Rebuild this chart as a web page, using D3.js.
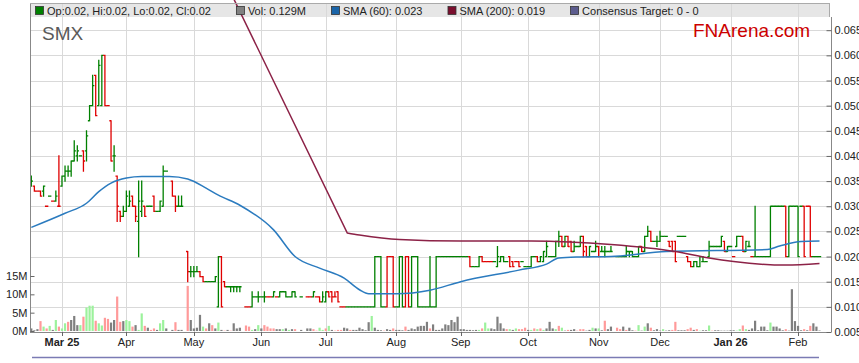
<!DOCTYPE html>
<html><head><meta charset="utf-8">
<script src="https://cdn.jsdelivr.net/npm/d3@7"></script>
<style>
html,body{margin:0;padding:0;background:#fff;}
svg{display:block;font-family:"Liberation Sans",Arial,sans-serif;}
</style></head>
<body><svg id="chart" width="859" height="363"></svg>
<script>
// trading days start Mon 17 Feb 2025, weekdays only
const firstDay = new Date(2025, 1, 17);
const monthLabels = ['Mar 25','Apr','May','Jun','Jul','Aug','Sep','Oct','Nov','Dec','Jan 26','Feb'];
const boldLabels = ['Mar 25','Jan 26'];
const priceTicks = [0.005,0.010,0.015,0.020,0.025,0.030,0.035,0.040,0.045,0.050,0.055,0.060,0.065];
const volTicks = [0,5,10,15];

// one entry per trading day: [open,high,low,close], a single number when o=h=l=c, null = no bar
const ohlc = [
 [.034,.036,.034,.035],[.034,.034,.033,.033],.033,[.033,.033,.032,.032],[.033,.034,.032,.034],.030,.032,.031,[.031,.033,.031,.032],[.030,.040,.030,.030],
 [.034,.036,.034,.036],[.036,.038,.035,.037],[.037,.038,.036,.037],[.037,.039,.036,.039],[.039,.043,.039,.041],[.040,.042,.039,.041],.040,[.041,.041,.037,.039],[.041,.045,.039,.044],[.047,.050,.047,.050],
 [.050,.056,.050,.054],[.056,.056,.048,.048],[.050,.059,.050,.058],[.050,.060,.050,.060],[.060,.060,.050,.050],.050,[.047,.047,.039,.039],[.040,.042,.037,.040],[.036,.036,.027,.030],[.029,.029,.027,.028],
 [.028,.030,.028,.029],[.029,.033,.029,.032],[.030,.033,.030,.031],[.032,.032,.030,.030],[.030,.030,.027,.028],[.027,.035,.020,.031],[.029,.035,.028,.031],[.030,.030,.028,.028],.030,.030,
 [.032,.032,.029,.029],.029,[.029,.031,.029,.031],[.030,.038,.030,.037],.037,null,[.035,.035,.032,.032],[.032,.032,.029,.030],[.030,.032,.030,.030],[.030,.032,.030,.030],
 null,[.021,.021,.015,.017],[.017,.018,.016,.017],[.017,.018,.016,.017],[.017,.018,.017,.017],[.017,.017,.016,.016],[.016,.016,.015,.015],.015,.015,.015,
 [.015,.016,.015,.016],[.010,.020,.010,.020],[.020,.020,.010,.010],[.015,.015,.014,.014],.014,[.014,.014,.013,.014],[.014,.014,.013,.014],[.014,.014,.013,.014],[.014,.014,.013,.014],null,
 .010,.010,[.010,.013,.010,.012],.012,[.012,.013,.011,.012],.012,[.012,.013,.011,.012],.012,.012,[.012,.013,.012,.013],
 .012,[.012,.013,.012,.013],.013,[.013,.013,.012,.012],.012,[.012,.013,.012,.013],[.013,.013,.012,.012],null,.012,null,
 .012,.012,[.012,.013,.012,.013],.012,[.012,.012,.011,.011],[.011,.013,.011,.012],[.011,.013,.011,.013],[.013,.013,.012,.012],[.013,.013,.011,.012],[.012,.013,.012,.012],
 [.013,.013,.011,.011],.010,.010,.010,.010,.010,.010,.010,.010,.010,
 .010,.010,[.010,.020,.010,.020],.020,[.020,.020,.010,.010],.010,[.010,.020,.010,.020],.020,[.020,.020,.010,.010],.010,
 [.010,.020,.010,.020],[.020,.020,.010,.010],[.010,.020,.010,.020],[.020,.020,.010,.010],[.010,.020,.010,.020],.020,[.020,.020,.010,.010],.010,.010,.010,
 [.010,.020,.010,.010],.010,[.010,.020,.010,.020],.020,.020,.020,.020,.020,.020,.020,
 .020,.020,.020,[.020,.020,.018,.018],.018,.018,[.018,.020,.018,.020],[.020,.020,.019,.019],.019,.019,
 .019,.019,[.018,.022,.018,.020],[.019,.020,.019,.020],[.020,.020,.019,.019],.019,[.020,.020,.018,.018],[.019,.019,.018,.018],.019,[.019,.019,.018,.018],
 .019,.018,.018,[.018,.020,.018,.020],.020,[.020,.020,.019,.019],[.019,.020,.019,.020],[.019,.021,.019,.021],[.020,.023,.020,.022],.020,
 .020,[.020,.023,.020,.023],[.023,.025,.022,.024],[.024,.024,.022,.022],[.022,.024,.022,.024],[.024,.024,.022,.022],[.023,.023,.021,.021],[.021,.023,.021,.022],.022,[.022,.024,.022,.024],
 [.024,.024,.020,.021],[.022,.022,.020,.020],[.020,.022,.020,.022],.021,[.021,.023,.021,.022],[.022,.022,.020,.020],[.021,.022,.021,.021],[.021,.022,.020,.021],.021,[.021,.022,.021,.021],
 null,.020,.020,.020,[.020,.022,.020,.021],[.021,.021,.020,.021],[.021,.021,.020,.020],.020,[.020,.022,.020,.022],[.022,.022,.021,.021],
 [.021,.024,.021,.024],[.024,.026,.024,.025],[.025,.025,.023,.023],.023,[.023,.024,.022,.023],[.023,.025,.023,.024],.024,.024,[.023,.023,.022,.022],[.023,.023,.021,.021],
 [.023,.023,.019,.019],.024,.024,.024,[.020,.020,.019,.019],[.019,.019,.018,.018],[.018,.019,.018,.019],[.019,.019,.018,.018],[.018,.020,.018,.020],[.019,.020,.019,.019],
 .019,[.020,.023,.020,.022],.022,.022,.022,[.022,.024,.022,.024],[.023,.023,.021,.021],[.021,.022,.021,.022],.022,.020,
 [.022,.024,.022,.024],.024,[.024,.024,.021,.021],[.021,.023,.021,.023],[.022,.023,.022,.022],.020,[.020,.030,.020,.020],.020,.020,.020,
 .020,[.020,.030,.020,.030],.030,.030,.030,.030,[.030,.030,.020,.020],[.020,.030,.020,.030],.030,.030,
 [.030,.030,.020,.020],.030,[.030,.030,.020,.020],.030,[.030,.030,.020,.020],.020,.020,.020
];
// bar colour per day: g = up, r = down, - = none
const barDir = 'grrrgrgrgr gggggggrgg grggrrrgrr gggrrggrgg rgggg-rrgg -rgggrrggg ggrrggggg- rrgggggrrg rgggggg-g- rrgrrggrrr ' +
  'rrrggggggg ggggggrrrg ggrrgggggg gggggggggg gggrgggrrr rgggggrrrr gggggrgggg gggrgrrggg rrgggrgggg -ggggggggr ' +
  'ggrgggggrr rgggrrgggg ggggggrggr ggrggrgggg ggggggrggg ggrrrggg';

// daily volume, millions
const volume = [
 .7,.2,.5,2.7,1.2,.7,1.4,.3,3.0,1.2,
 .7,2.1,2.5,3.0,4.1,1.6,1.6,3.9,6.4,6.9,
 6.9,2.8,2.1,1.5,3.6,3.3,2.3,3.0,9.4,2.5,
 2.7,3.0,2.7,1.2,1.6,.3,4.8,1.4,.9,.3,
 .7,.3,2.1,3.0,.7,0,.3,2.4,.3,.3,
 0,12.3,3.0,.7,.9,4.4,1.2,.7,2.1,1.6,
 .7,2.3,.3,.1,.3,.1,2.1,.7,.9,0,
 1.5,1.2,.3,.5,1.6,.7,1.6,1.2,.7,.7,
 .5,.5,.5,.7,.3,.5,.5,0,.3,0,
 .7,.7,.5,.1,.9,.3,.7,1.4,.3,.1,
 .3,.3,.9,.7,.3,.3,.3,.9,.5,.2,
 2.4,4.1,.9,.3,.2,.1,.5,.3,.7,.3,
 .3,.2,1.2,.3,.7,.5,1.2,1.4,1.4,2.5,
 .7,1.8,.3,.3,.7,1.8,1.6,3.0,2.4,3.9,
 .5,.5,.3,.3,.2,.3,.3,.7,2.3,.7,
 .7,.5,3.9,2.1,.7,.5,.5,.3,.7,.5,
 .5,.9,.3,.3,.7,.5,.7,.3,.7,2.5,
 .7,.5,1.4,.9,.1,.3,.3,.5,.1,.5,
 .5,.1,.3,.9,.7,.7,.2,2.8,.5,1.2,
 0,.9,.5,1.2,.3,.9,.2,.1,1.6,.1,
 1.2,2.1,.9,.2,.5,.1,.5,.1,.2,.3,
 2.5,.2,.2,.2,.5,.9,.3,.5,.1,.2,
 .2,1.5,.1,.2,.2,.1,.1,.1,.2,.2,
 .1,.5,1.5,.5,.3,.7,2.8,.2,1.2,1.2,
 .2,2.3,1.2,1.2,.7,.2,.5,.1,11.4,2.7,
 1.4,.2,.5,.2,1.4,2.1,1.2,.129
];
// volume colour: g = up, r = down, n = unchanged
const volDir = 'nnnrgrgngr ggrnnngrgg grggrrnnrr nggrnggrnr rnggnnnrnn nrnnnngrnr ngnrnrnnnn rrgngnrrrr nngngnrnnn nnrrggrgnr ' +
  'rrnnrnnnnn ngnnnrnnrn nnrnnnnnnn rnnnnnnnnn nnnnnngrgg nnnnnrgngr rrngrgrgnn ngrgnrnnrr rnngngnrnn nrrnrnnrgn ' +
  'gnrnnngnnr rnnnrrnrgn ngrnnnnnnn ggrgnnnnnn ngnnnnrnnn nnrnrnnn';

// moving averages as [day index, value]
const sma60 = [[0,.0258],[11,.0286],[18,.0306],[22,.0329],[26,.0346],[31,.0356],[36,.0359],[45,.0359],[51,.0354],[57,.0336],
 [61,.0322],[68,.0302],[79,.0253],[86,.0200],[94,.0177],[102,.0157],[107,.0134],[110,.0126],[119,.0126],[130,.0133],
 [140,.0150],[159,.0173],[168,.0185],[172,.0197],[178,.0199],[189,.0200],[207,.0210],[240,.0214],[244,.0221],[251,.0230],[257,.0231]];
const sma200 = [[65,.0725],[103,.0247],[107,.0243],[120,.0234],[140,.0231],[163,.0231],[189,.0224],[210,.0210],[221,.0197],[229,.0190],[246,.0183],[257,.0186]];

const legendItems = [
 {label:'Op:0.02, Hi:0.02, Lo:0.02, Cl:0.02', color:'#008000'},
 {label:'Vol: 0.129M', color:'#808080'},
 {label:'SMA (60): 0.023', color:'#1a64a8'},
 {label:'SMA (200): 0.019', color:'#7a0e2e'},
 {label:'Consensus Target: 0 - 0', color:'#5c5c8e'}
];

(function(){
const svg = d3.select('#chart');
const pl = 30, pr = 831, pt = 3, ph = 17, pb = 332;

const days = [];
for (let d = new Date(firstDay); days.length < ohlc.length; d.setDate(d.getDate()+1)) {
  if (d.getDay() % 6 !== 0) days.push(new Date(d));
}
const monthIdx = days.map((d,i)=>i).filter(i=>i>0 && days[i].getMonth()!==days[i-1].getMonth());

const x = d3.scaleLinear().domain([0,260]).range([31.3,828.7]);
const y = d3.scaleLinear().domain([0.005,0.065]).range([332,30.2]);
const yv = d3.scaleLinear().domain([0,15]).range([331,276]);

const barCol = barDir.replace(/ /g,'');
const volCol = volDir.replace(/ /g,'');
const colors = {g:'#008000', r:'#e00000'};
const volColors = {g:'#9cf29c', r:'#ff9a9a', n:'#7f7f7f'};

// header band
svg.append('rect').attr('x',pl).attr('y',pt).attr('width',829-pl).attr('height',ph-pt).attr('fill','#e6e6e6');

// grid
svg.append('g').selectAll('line').data(priceTicks.slice(1)).join('line')
  .attr('x1',pl).attr('x2',pr).attr('y1',d=>Math.round(y(d))+0.5).attr('y2',d=>Math.round(y(d))+0.5)
  .attr('stroke','#d9d9d9');
svg.append('g').selectAll('line').data(monthIdx).join('line')
  .attr('x1',d=>Math.round(x(d))+0.5).attr('x2',d=>Math.round(x(d))+0.5).attr('y1',pt).attr('y2',pb)
  .attr('stroke','#d9d9d9');

svg.append('defs').append('clipPath').attr('id','plot').append('rect')
  .attr('x',pl+1).attr('y',ph).attr('width',pr-pl-1).attr('height',pb-ph);

// volume
svg.append('g').attr('clip-path','url(#plot)').selectAll('rect').data(volume).join('rect')
  .attr('x',(d,i)=>x(i)-1.1).attr('width',2.2)
  .attr('y',d=>yv(d)).attr('height',d=>yv(0)-yv(d))
  .attr('fill',(d,i)=>volColors[volCol[i]]);

// ohlc bars
const bars = ohlc.map((b,i)=>b===null?null:(typeof b==='number'?{i,o:b,h:b,l:b,c:b}:{i,o:b[0],h:b[1],l:b[2],c:b[3]})).filter(Boolean);
const tk = 1.7;
svg.append('g').attr('clip-path','url(#plot)').selectAll('path').data(bars).join('path')
  .attr('d',d=>{const cx=x(d.i);return `M${cx},${y(d.h)-0.6}V${y(d.l)+0.6}M${cx-tk},${y(d.o)}H${cx}M${cx},${y(d.c)}H${cx+tk}`;})
  .attr('fill','none').attr('stroke',d=>colors[barCol[d.i]]).attr('stroke-width',1.3);

// moving averages
const smooth = d3.line().x(d=>x(d[0])).y(d=>y(d[1])).curve(d3.curveMonotoneX);
const straight = d3.line().x(d=>x(d[0])).y(d=>y(d[1]));
svg.append('path').attr('d',smooth(sma60)).attr('fill','none').attr('stroke','#2b7bbf').attr('stroke-width',1.5);
// the 200-day average enters from above the chart as a straight segment
svg.append('path').attr('d',straight(sma200.slice(0,2))+smooth(sma200.slice(1)).replace(/^M[^C]*/,''))
  .attr('fill','none').attr('stroke','#8c2247').attr('stroke-width',1.5);

// frame
svg.append('line').attr('x1',pl+0.5).attr('x2',pl+0.5).attr('y1',pt).attr('y2',pb+0.5).attr('stroke','#888');
svg.append('line').attr('x1',pl).attr('x2',829).attr('y1',pt+0.5).attr('y2',pt+0.5).attr('stroke','#aaa');
svg.append('line').attr('x1',829.5).attr('x2',829.5).attr('y1',pt).attr('y2',ph).attr('stroke','#aaa');
svg.append('line').attr('x1',pl).attr('x2',pr).attr('y1',pb+0.5).attr('y2',pb+0.5).attr('stroke','#888');

// right price axis
const ay = svg.append('g').attr('transform',`translate(${pr+0.5},0)`)
  .call(d3.axisRight(y).tickValues(priceTicks).tickFormat(d3.format('.3f')).tickSizeInner(-5).tickSizeOuter(0).tickPadding(3));
ay.select('.domain').attr('d',`M0,${ph}V${pb}`).attr('stroke','#888');
ay.selectAll('.tick line').attr('stroke','#666');
ay.selectAll('text').attr('font-size',11).attr('fill','#222').attr('font-family','"Liberation Sans",Arial,sans-serif');

// left volume axis
const av = svg.append('g').attr('transform',`translate(${pl+0.5},0)`)
  .call(d3.axisLeft(yv).tickValues(volTicks).tickFormat(d=>d+'M').tickSizeInner(-4).tickSizeOuter(0).tickPadding(3));
av.select('.domain').remove();
av.selectAll('.tick line').attr('stroke','#666');
av.selectAll('text').attr('font-size',11).attr('fill','#222').attr('font-family','"Liberation Sans",Arial,sans-serif');

// month axis
const months = svg.append('g');
months.selectAll('line').data(monthIdx).join('line')
  .attr('x1',d=>Math.round(x(d))+0.5).attr('x2',d=>Math.round(x(d))+0.5).attr('y1',pb).attr('y2',pb+4).attr('stroke','#666');
months.selectAll('text').data(monthIdx).join('text')
  .attr('x',d=>x(d)).attr('y',346).attr('text-anchor','middle').attr('font-size',11).attr('fill','#222')
  .attr('font-weight',(d,i)=>boldLabels.includes(monthLabels[i])?'bold':'normal')
  .text((d,i)=>monthLabels[i]);

// titles
svg.append('text').attr('x',42).attr('y',40).attr('font-size',19).attr('fill','#5a5a5a').text('SMX');
svg.append('text').attr('x',693).attr('y',36.5).attr('font-size',19).attr('fill','#cc0000').text('FNArena.com');

// legend
let lx = 35;
legendItems.forEach(it=>{
  svg.append('rect').attr('x',lx+0.5).attr('y',6.5).attr('width',8).attr('height',8).attr('fill',it.color).attr('stroke','#333').attr('stroke-width',0.8);
  const t = svg.append('text').attr('x',lx+12).attr('y',14.5).attr('font-size',11).attr('fill','#222').text(it.label);
  lx = lx + 12 + t.node().getComputedTextLength() + 25;
});

// navigator line
svg.append('line').attr('x1',32).attr('x2',819).attr('y1',357.5).attr('y2',357.5).attr('stroke','#7b7bb4').attr('stroke-width',1.6);
})();
</script>
</body></html>
